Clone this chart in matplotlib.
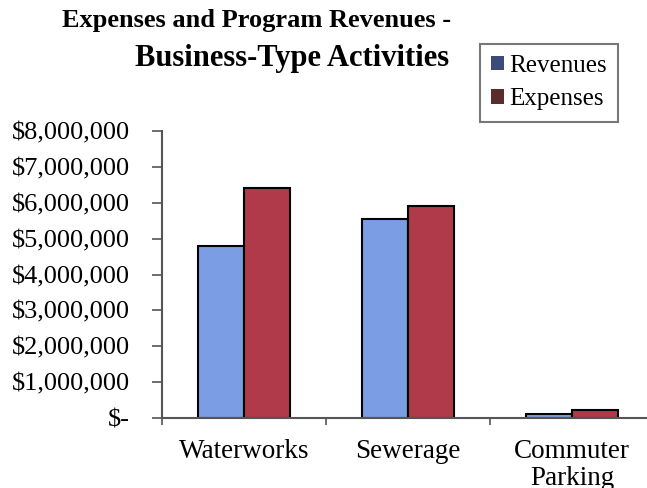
import matplotlib.pyplot as plt
from matplotlib.patches import Patch
from matplotlib.ticker import FuncFormatter

categories = ["Waterworks", "Sewerage", "Commuter\nParking"]
revenues = [4800000, 5550000, 110000]
expenses = [6400000, 5900000, 220000]

plt.rcParams["font.family"] = ["Liberation Serif", "DejaVu Serif"]

fig = plt.figure(figsize=(6.47, 4.88), dpi=100)
ax = fig.add_axes([0.250, 0.1434, 0.761, 0.5882])

x = list(range(len(categories)))
w = 0.28
ax.bar([i - w / 2 for i in x], revenues, w, color="#7b9de3", edgecolor="black", linewidth=1.5)
ax.bar([i + w / 2 for i in x], expenses, w, color="#b03a4a", edgecolor="black", linewidth=1.5)

ax.set_xlim(-0.5, 2.5)
ax.set_ylim(0, 8000000)
ax.set_yticks(range(0, 8000001, 1000000))


def money(v, pos):
    if v == 0:
        return "$-"
    return "${:,.0f}".format(v)


ax.yaxis.set_major_formatter(FuncFormatter(money))
ax.set_xticks([-0.5, 0.5, 1.5, 2.5])
ax.set_xticklabels([])
ax.set_xticks(x, minor=True)
ax.set_xticklabels(categories, minor=True, fontsize=19.5, linespacing=1.1)
ax.tick_params(axis="x", which="minor", length=0, pad=15)
ax.tick_params(axis="x", which="major", length=5, width=1.2, color="#555555")
ax.tick_params(axis="y", length=7, width=1.2, color="#555555", labelsize=19, pad=16)

for s in ["top", "right"]:
    ax.spines[s].set_visible(False)
ax.spines["left"].set_color("#555555")
ax.spines["left"].set_linewidth(1.5)
ax.spines["bottom"].set_color("#555555")
ax.spines["bottom"].set_linewidth(1.5)

fig.text(0.396, 0.957, "Expenses and Program Revenues -", ha="center", va="center",
         fontsize=19, fontweight="bold")
fig.text(0.452, 0.881, "Business-Type Activities", ha="center", va="center",
         fontsize=22, fontweight="bold")

handles = [Patch(facecolor="#3d4b78", edgecolor="none"),
           Patch(facecolor="#5a2c2c", edgecolor="none")]
leg = fig.legend(handles, ["Revenues", "Expenses"], loc="upper left",
                 bbox_to_anchor=(0.742, 0.91), fontsize=18, frameon=True,
                 fancybox=False, handlelength=0.5, handleheight=0.5,
                 handletextpad=0.2, borderpad=0.45, labelspacing=0.45,
                 borderaxespad=0)
leg.get_frame().set_edgecolor("#555555")
leg.get_frame().set_linewidth(1.5)

fig.savefig("out.png", dpi=100)
